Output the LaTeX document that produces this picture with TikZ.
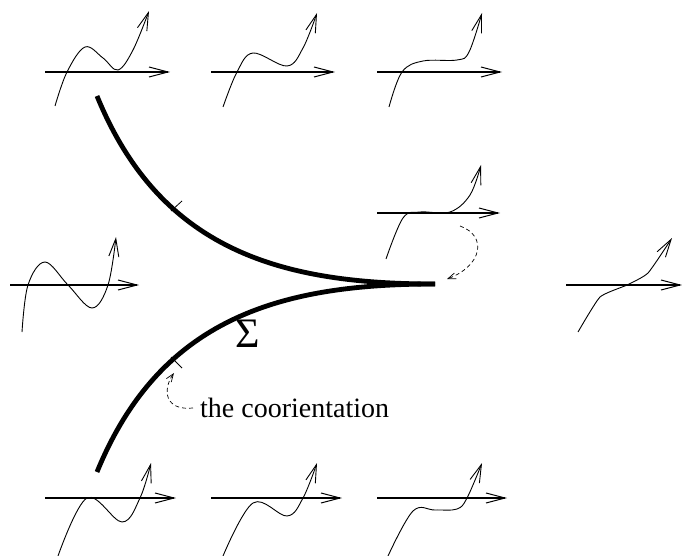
\documentclass[tikz,border=0pt]{standalone}
\usepackage{fontspec}
\setmainfont{Liberation Serif}
\newfontfamily\figserif{Liberation Serif}
\usetikzlibrary{arrows.meta}
\begin{document}
\begin{tikzpicture}[x=1pt,y=-1pt,
  axis/.style={line width=1.1pt,-{Straight Barb[length=19pt,width=10pt,line width=1pt]}},
  fn/.style={line width=0.9pt,-{Straight Barb[length=18pt,width=10pt,line width=0.9pt]}},
  cusp/.style={line width=4.8pt},
  tick/.style={line width=0.8pt},
  hint/.style={line width=0.7pt,dash pattern=on 4pt off 3pt,-{Straight Barb[length=8pt,width=6pt,line width=0.7pt]}},
  lbl/.style={inner sep=0pt,font=\figserif\fontsize{28}{30}\selectfont}]
\useasboundingbox (0,0) rectangle (682,556);
\clip (0,0) rectangle (682,556);
% top row
\begin{scope}[shift={(45,72)}]
  \draw[axis] (0,0) -- (125,0);
  \draw[fn] plot[smooth,tension=0.6] coordinates {(10,34) (22,0) (40,-25) (58,-14) (73,-2) (88,-22) (104,-61)};
\end{scope}
\begin{scope}[shift={(211,72)}]
  \draw[axis] (0,0) -- (124,0);
  \draw[fn] plot[smooth,tension=0.6] coordinates {(12,35) (26,0) (42,-19) (76,-6) (92,-24) (106,-59)};
\end{scope}
\begin{scope}[shift={(377,72)}]
  \draw[axis] (0,0) -- (125,0);
  \draw[fn] plot[smooth,tension=0.6] coordinates {(12,35) (25,0) (46,-11) (80,-12) (92,-20) (105,-59)};
\end{scope}
% middle row
\begin{scope}[shift={(10,285)}]
  \draw[axis] (0,0) -- (129,0);
  \draw[fn] plot[smooth,tension=0.6] coordinates {(12,47) (18,0) (35,-23) (58,0) (82,23) (98,0) (106,-48)};
\end{scope}
\begin{scope}[shift={(377,213)}]
  \draw[axis] (0,0) -- (123,0);
  \draw[fn] plot[smooth,tension=0.6] coordinates {(9,46) (26,5) (43,-1) (73,-1) (93,-18) (104,-48)};
\end{scope}
\begin{scope}[shift={(566,285)}]
  \draw[axis] (0,0) -- (116,0);
  \draw[fn] plot[smooth,tension=0.3] coordinates {(12,47) (34,12) (61,0) (82,-12) (106,-47)};
\end{scope}
% bottom row
\begin{scope}[shift={(45,498)}]
  \draw[axis] (0,0) -- (131,0);
  \draw[fn] plot[smooth,tension=0.6] coordinates {(13,58) (42,0) (77,24) (95,0) (106,-35)};
\end{scope}
\begin{scope}[shift={(211,498)}]
  \draw[axis] (0,0) -- (131,0);
  \draw[fn] plot[smooth,tension=0.6] coordinates {(12,58) (42,5) (76,18) (92,0) (106,-35)};
\end{scope}
\begin{scope}[shift={(377,498)}]
  \draw[axis] (0,0) -- (130,0);
  \draw[fn] plot[smooth,tension=0.6] coordinates {(11,58) (36,13) (58,12) (80,11) (90,0) (105,-35)};
\end{scope}
% cusp
\coordinate (tip) at (435,284);
\coordinate (ta) at (97,96);
\coordinate (tb) at (97,472);
\draw[cusp] (ta) .. controls (160,250) and (280,284) .. (tip);
\draw[cusp] (tb) .. controls (160,318) and (280,284) .. (tip);
% coorientation ticks
\coordinate (k1) at (171,211);
\coordinate (k1e) at (182,201);
\coordinate (k2) at (171,357);
\coordinate (k2e) at (182,368);
\draw[tick] (k1) -- (k1e);
\draw[tick] (k2) -- (k2e);
% labels
\node[inner sep=0pt,font=\figserif\fontsize{42}{44}\selectfont] (sigma) at (248,334) {Σ};
\node[lbl,anchor=west] (coor) at (200,408) {the coorientation};
% dashed hints
\draw[hint] ([xshift=-7pt]coor.west) .. controls (165,411) and (162,390) .. (174,373);
\coordinate (h1) at (460,226);
\coordinate (h2) at (447,279);
\draw[hint] (h1) .. controls (488,236) and (482,266) .. (h2);
\end{tikzpicture}
\end{document}
